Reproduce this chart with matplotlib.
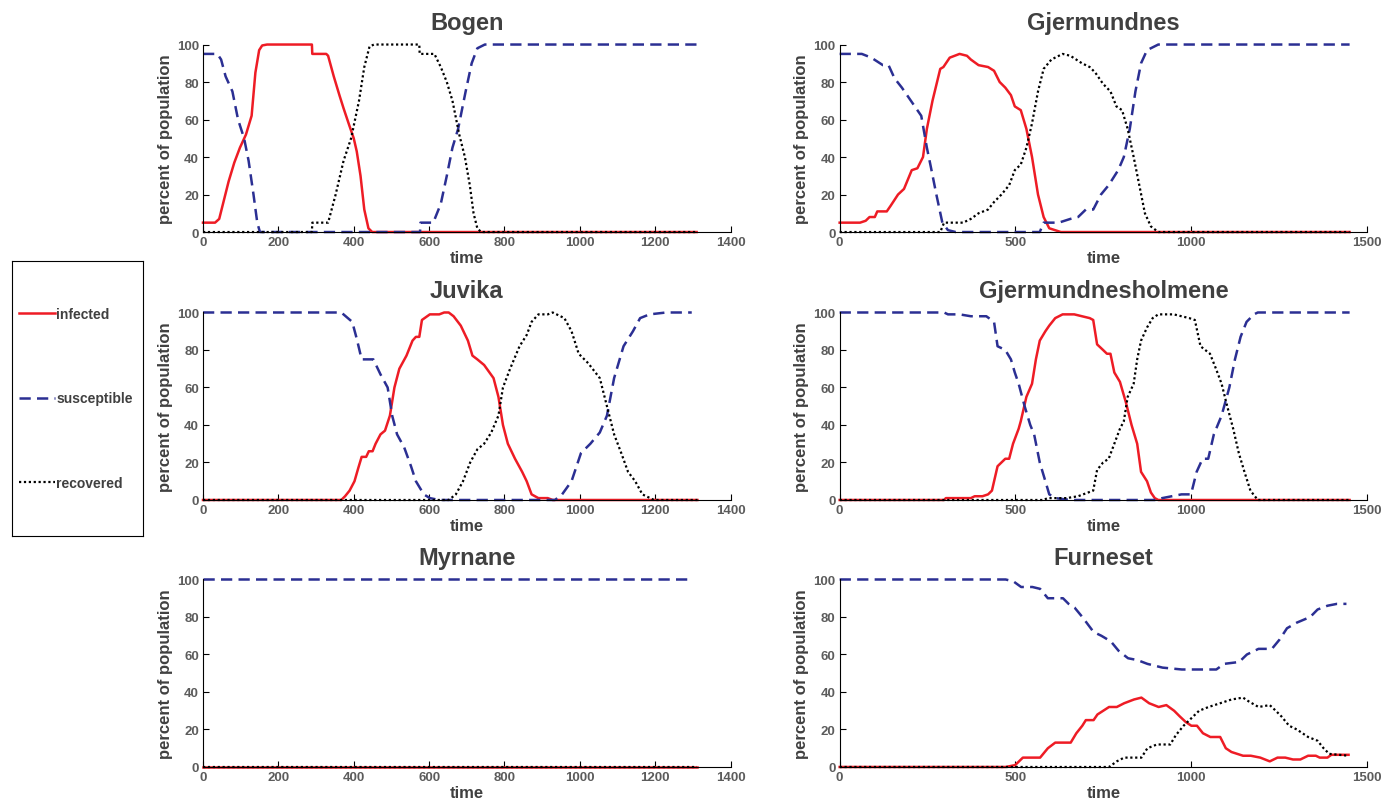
import matplotlib
matplotlib.use('Agg')
import matplotlib.pyplot as plt
from matplotlib.lines import Line2D

plt.rcParams['font.family'] = ['Liberation Sans', 'DejaVu Sans']
plt.rcParams['font.weight'] = 'bold'

RED = '#ee1c25'
BLUE = '#2b2f93'
TXT = '#404040'
TICK = '#5c5c5c'

titles = ['Bogen', 'Gjermundnes', 'Juvika', 'Gjermundnesholmene', 'Myrnane', 'Furneset']
xmax = [1400, 1500, 1400, 1500, 1400, 1500]

# Bogen
bogen_inf_t = [0, 32, 43, 53, 68, 83, 98, 114, 129, 139, 149, 157, 170, 289, 290, 327, 332, 347, 362, 373, 388, 400, 408, 418, 428, 439, 449, 1310]
bogen_inf_v = [5, 5, 7, 15, 27, 37, 45, 52, 62, 85, 97, 99.5, 100, 100, 95, 95, 94, 83, 73, 66, 57, 50, 43, 30, 12, 2, 0, 0]
bogen_sus_t = [0, 38, 48, 60, 78, 93, 109, 121, 134, 144, 151, 576, 577, 611, 631, 647, 662, 677, 697, 713, 728, 748, 1317]
bogen_sus_v = [95, 95, 92, 83, 75, 60, 50, 38, 20, 5, 0, 0, 5, 5, 15, 30, 45, 55, 75, 90, 98, 100, 100]
bogen_rec_t = [0, 289, 290, 332, 352, 373, 393, 414, 428, 442, 454, 574, 575, 614, 631, 647, 662, 680, 695, 708, 718, 728, 738, 1310]
bogen_rec_v = [0, 0, 5, 5, 20, 38, 50, 70, 88, 99, 100, 100, 95, 95, 88, 80, 70, 52, 40, 25, 10, 2, 0, 0]

# Gjermundnes
gjer_inf_t = [0, 58, 74, 85, 100, 107, 134, 145, 166, 183, 205, 221, 237, 248, 264, 286, 295, 313, 341, 362, 373, 395, 422, 439, 455, 471, 487, 498, 515, 531, 547, 564, 580, 596, 629, 1450]
gjer_inf_v = [5, 5, 6, 8, 8, 11, 11, 14, 20, 23, 33, 34, 40, 55, 70, 87, 88, 93, 95, 94, 92, 89, 88, 86, 80, 77, 73, 67, 65, 55, 40, 20, 8, 2, 0, 0]
gjer_sus_t = [0, 63, 90, 123, 139, 156, 177, 210, 232, 248, 259, 275, 292, 308, 330, 569, 580, 623, 656, 678, 700, 721, 743, 765, 792, 808, 825, 841, 857, 874, 906, 1450]
gjer_sus_v = [95, 95, 93, 89, 89, 82, 77, 68, 62, 45, 35, 20, 5, 1, 0, 0, 5, 5, 7, 8, 12, 12, 20, 25, 33, 40, 55, 75, 90, 97, 100, 100]
gjer_rec_t = [0, 286, 297, 351, 373, 395, 422, 439, 460, 482, 498, 515, 531, 547, 564, 580, 602, 634, 656, 689, 711, 727, 749, 770, 787, 803, 819, 836, 852, 868, 885, 906, 1450]
gjer_rec_v = [0, 0, 5, 5, 7, 10, 12, 16, 20, 25, 33, 36, 45, 58, 75, 87, 92, 95, 94, 90, 88, 85, 79, 75, 67, 65, 55, 40, 25, 10, 3, 0, 0]

# Juvika
juv_inf_t = [0, 367, 377, 389, 402, 412, 421, 433, 440, 450, 458, 471, 483, 496, 508, 521, 540, 556, 565, 574, 581, 602, 627, 640, 652, 665, 684, 703, 715, 728, 746, 771, 784, 796, 809, 828, 847, 859, 872, 890, 915, 928, 1312]
juv_inf_v = [0, 0, 2, 5, 10, 17, 23, 23, 26, 26, 30, 35, 37, 45, 60, 70, 77, 85, 87, 87, 96, 99, 99, 100, 100, 98, 93, 85, 77, 75, 72, 65, 55, 40, 30, 22, 15, 10, 3, 1, 1, 0, 0]
juv_sus_t = [0, 367, 396, 408, 421, 452, 471, 490, 502, 515, 534, 552, 565, 586, 602, 627, 934, 953, 978, 1003, 1028, 1053, 1072, 1091, 1116, 1141, 1160, 1185, 1229, 1297]
juv_sus_v = [100, 100, 95, 86, 75, 75, 67, 60, 45, 35, 28, 18, 10, 3, 1, 0, 0, 3, 10, 25, 30, 36, 45, 65, 82, 90, 97, 99, 100, 100]
juv_rec_t = [0, 652, 671, 690, 709, 728, 746, 765, 784, 796, 815, 840, 859, 872, 890, 915, 928, 959, 978, 997, 1022, 1053, 1072, 1091, 1110, 1128, 1147, 1166, 1197, 1312]
juv_rec_v = [0, 0, 3, 10, 20, 27, 30, 36, 45, 60, 70, 82, 88, 95, 99, 99, 100, 97, 90, 78, 73, 65, 50, 35, 25, 15, 10, 3, 0, 0]

# Gjermundnesholmene
gho_inf_t = [0, 297, 302, 373, 384, 406, 422, 433, 449, 471, 482, 493, 509, 515, 531, 547, 558, 569, 585, 596, 613, 634, 667, 689, 711, 721, 732, 749, 760, 770, 781, 797, 814, 830, 846, 857, 874, 885, 896, 906, 1450]
gho_inf_v = [0, 0, 1, 1, 2, 2, 3, 5, 18, 22, 22, 30, 38, 42, 55, 62, 75, 85, 90, 93, 97, 99, 99, 98, 97, 96, 83, 80, 78, 78, 68, 63, 52, 40, 30, 15, 10, 4, 1, 0, 0]
gho_sus_t = [0, 297, 308, 341, 373, 417, 439, 449, 471, 487, 498, 509, 526, 542, 553, 569, 585, 596, 613, 656, 901, 917, 972, 999, 1015, 1032, 1048, 1064, 1086, 1108, 1124, 1140, 1157, 1178, 1189, 1450]
gho_sus_v = [100, 100, 99, 99, 98, 98, 95, 82, 80, 75, 68, 62, 50, 40, 35, 20, 10, 3, 1, 0, 0, 1, 3, 3, 15, 22, 22, 35, 45, 60, 75, 87, 95, 99, 100, 100]
gho_rec_t = [0, 580, 591, 645, 678, 721, 732, 749, 765, 781, 797, 808, 819, 836, 846, 857, 874, 890, 906, 950, 972, 994, 1010, 1026, 1053, 1070, 1086, 1102, 1119, 1135, 1151, 1168, 1189, 1450]
gho_rec_v = [0, 0, 1, 1, 2, 5, 16, 20, 22, 30, 38, 42, 55, 62, 75, 85, 92, 97, 99, 99, 98, 97, 96, 82, 78, 70, 62, 50, 38, 25, 15, 5, 0, 0]

# Myrnane
myr_inf_t = [0, 1310]
myr_inf_v = [0, 0]
myr_sus_t = [0, 1300]
myr_sus_v = [100, 100]
myr_rec_t = [0, 1310]
myr_rec_v = [0, 0]

# Furneset
fur_inf_t = [0, 472, 499, 521, 570, 592, 613, 657, 673, 690, 700, 722, 733, 766, 788, 809, 837, 858, 880, 907, 929, 951, 967, 984, 1000, 1016, 1033, 1054, 1082, 1098, 1114, 1147, 1169, 1196, 1223, 1245, 1267, 1289, 1310, 1332, 1354, 1365, 1387, 1398, 1447]
fur_inf_v = [0, 0, 1, 5, 5, 10, 13, 13, 18, 22, 25, 25, 28, 32, 32, 34, 36, 37, 34, 32, 33, 30, 27, 24, 22, 22, 18, 16, 16, 10, 8, 6, 6, 5, 3, 5, 5, 4, 4, 6, 6, 5, 5, 6.5, 6.5]
fur_sus_t = [0, 472, 494, 516, 548, 570, 592, 635, 651, 668, 690, 722, 744, 771, 793, 820, 847, 875, 918, 973, 1071, 1093, 1136, 1158, 1191, 1229, 1251, 1272, 1300, 1338, 1359, 1387, 1414, 1441]
fur_sus_v = [100, 100, 99, 96, 96, 95, 90, 90, 87, 85, 80, 72, 70, 67, 62, 58, 57, 55, 53, 52, 52, 55, 56, 60, 63, 63, 68, 74, 77, 80, 84, 86, 87, 87]
fur_rec_t = [0, 766, 788, 809, 858, 875, 902, 940, 956, 978, 1000, 1022, 1049, 1082, 1114, 1147, 1163, 1191, 1223, 1240, 1256, 1278, 1300, 1332, 1359, 1376, 1392, 1447]
fur_rec_v = [0, 0, 3, 5, 5, 10, 12, 12, 17, 22, 26, 30, 32, 34, 36, 37, 35, 32, 33, 30, 27, 22, 20, 16, 14, 10, 7, 6]

panels = [
    (bogen_inf_t, bogen_inf_v, bogen_sus_t, bogen_sus_v, bogen_rec_t, bogen_rec_v),
    (gjer_inf_t, gjer_inf_v, gjer_sus_t, gjer_sus_v, gjer_rec_t, gjer_rec_v),
    (juv_inf_t, juv_inf_v, juv_sus_t, juv_sus_v, juv_rec_t, juv_rec_v),
    (gho_inf_t, gho_inf_v, gho_sus_t, gho_sus_v, gho_rec_t, gho_rec_v),
    (myr_inf_t, myr_inf_v, myr_sus_t, myr_sus_v, myr_rec_t, myr_rec_v),
    (fur_inf_t, fur_inf_v, fur_sus_t, fur_sus_v, fur_rec_t, fur_rec_v),
]

DASH = (0, (4.5, 2.5))
DOT = (0, (1, 1.2))

fig = plt.figure(figsize=(13.81, 8.03), dpi=100)

lefts = [0.147, 0.608]
bottoms = [0.7098, 0.3761, 0.0436]
w, h = 0.382, 0.2335

for i, (it, iv, st, sv, rt, rv) in enumerate(panels):
    ax = fig.add_axes([lefts[i % 2], bottoms[i // 2], w, h])
    ax.plot(it, iv, color=RED, lw=1.8, clip_on=False)
    ax.plot(st, sv, color=BLUE, lw=1.8, ls=DASH, clip_on=False)
    ax.plot(rt, rv, color='black', lw=1.6, ls=DOT, clip_on=False)
    ax.set_xlim(0, xmax[i])
    ax.set_ylim(0, 100)
    ax.set_yticks([0, 20, 40, 60, 80, 100])
    if xmax[i] == 1400:
        ax.set_xticks(range(0, 1401, 200))
    else:
        ax.set_xticks([0, 500, 1000, 1500])
    ax.spines['top'].set_visible(False)
    ax.spines['right'].set_visible(False)
    ax.tick_params(direction='in', length=4, labelsize=9.5, labelcolor=TICK, pad=3)
    for lab in ax.get_xticklabels() + ax.get_yticklabels():
        lab.set_fontweight('bold')
    ax.set_title(titles[i], fontsize=17, fontweight='bold', color=TXT, pad=11)
    ax.set_xlabel('time', fontsize=12, fontweight='bold', color=TXT, labelpad=1)
    ax.set_ylabel('percent of population', fontsize=12, fontweight='bold', color=TXT, labelpad=3)

# legend box on the left
lax = fig.add_axes([0.0087, 0.3313, 0.0949, 0.3424])
lax.set_xticks([])
lax.set_yticks([])
for s in lax.spines.values():
    s.set_linewidth(0.8)
handles = [
    Line2D([], [], color=RED, lw=1.8),
    Line2D([], [], color=BLUE, lw=1.8, ls=DASH),
    Line2D([], [], color='black', lw=1.6, ls=DOT),
]
lax.legend(handles, ['infected', 'susceptible', 'recovered'], loc='center left',
           bbox_to_anchor=(0.0, 0.5), frameon=False, labelspacing=5.1,
           handlelength=2.6, handletextpad=0.1, borderaxespad=0.1,
           prop={'weight': 'bold', 'size': 10}, labelcolor=TXT)

fig.savefig('out.png', dpi=100)
